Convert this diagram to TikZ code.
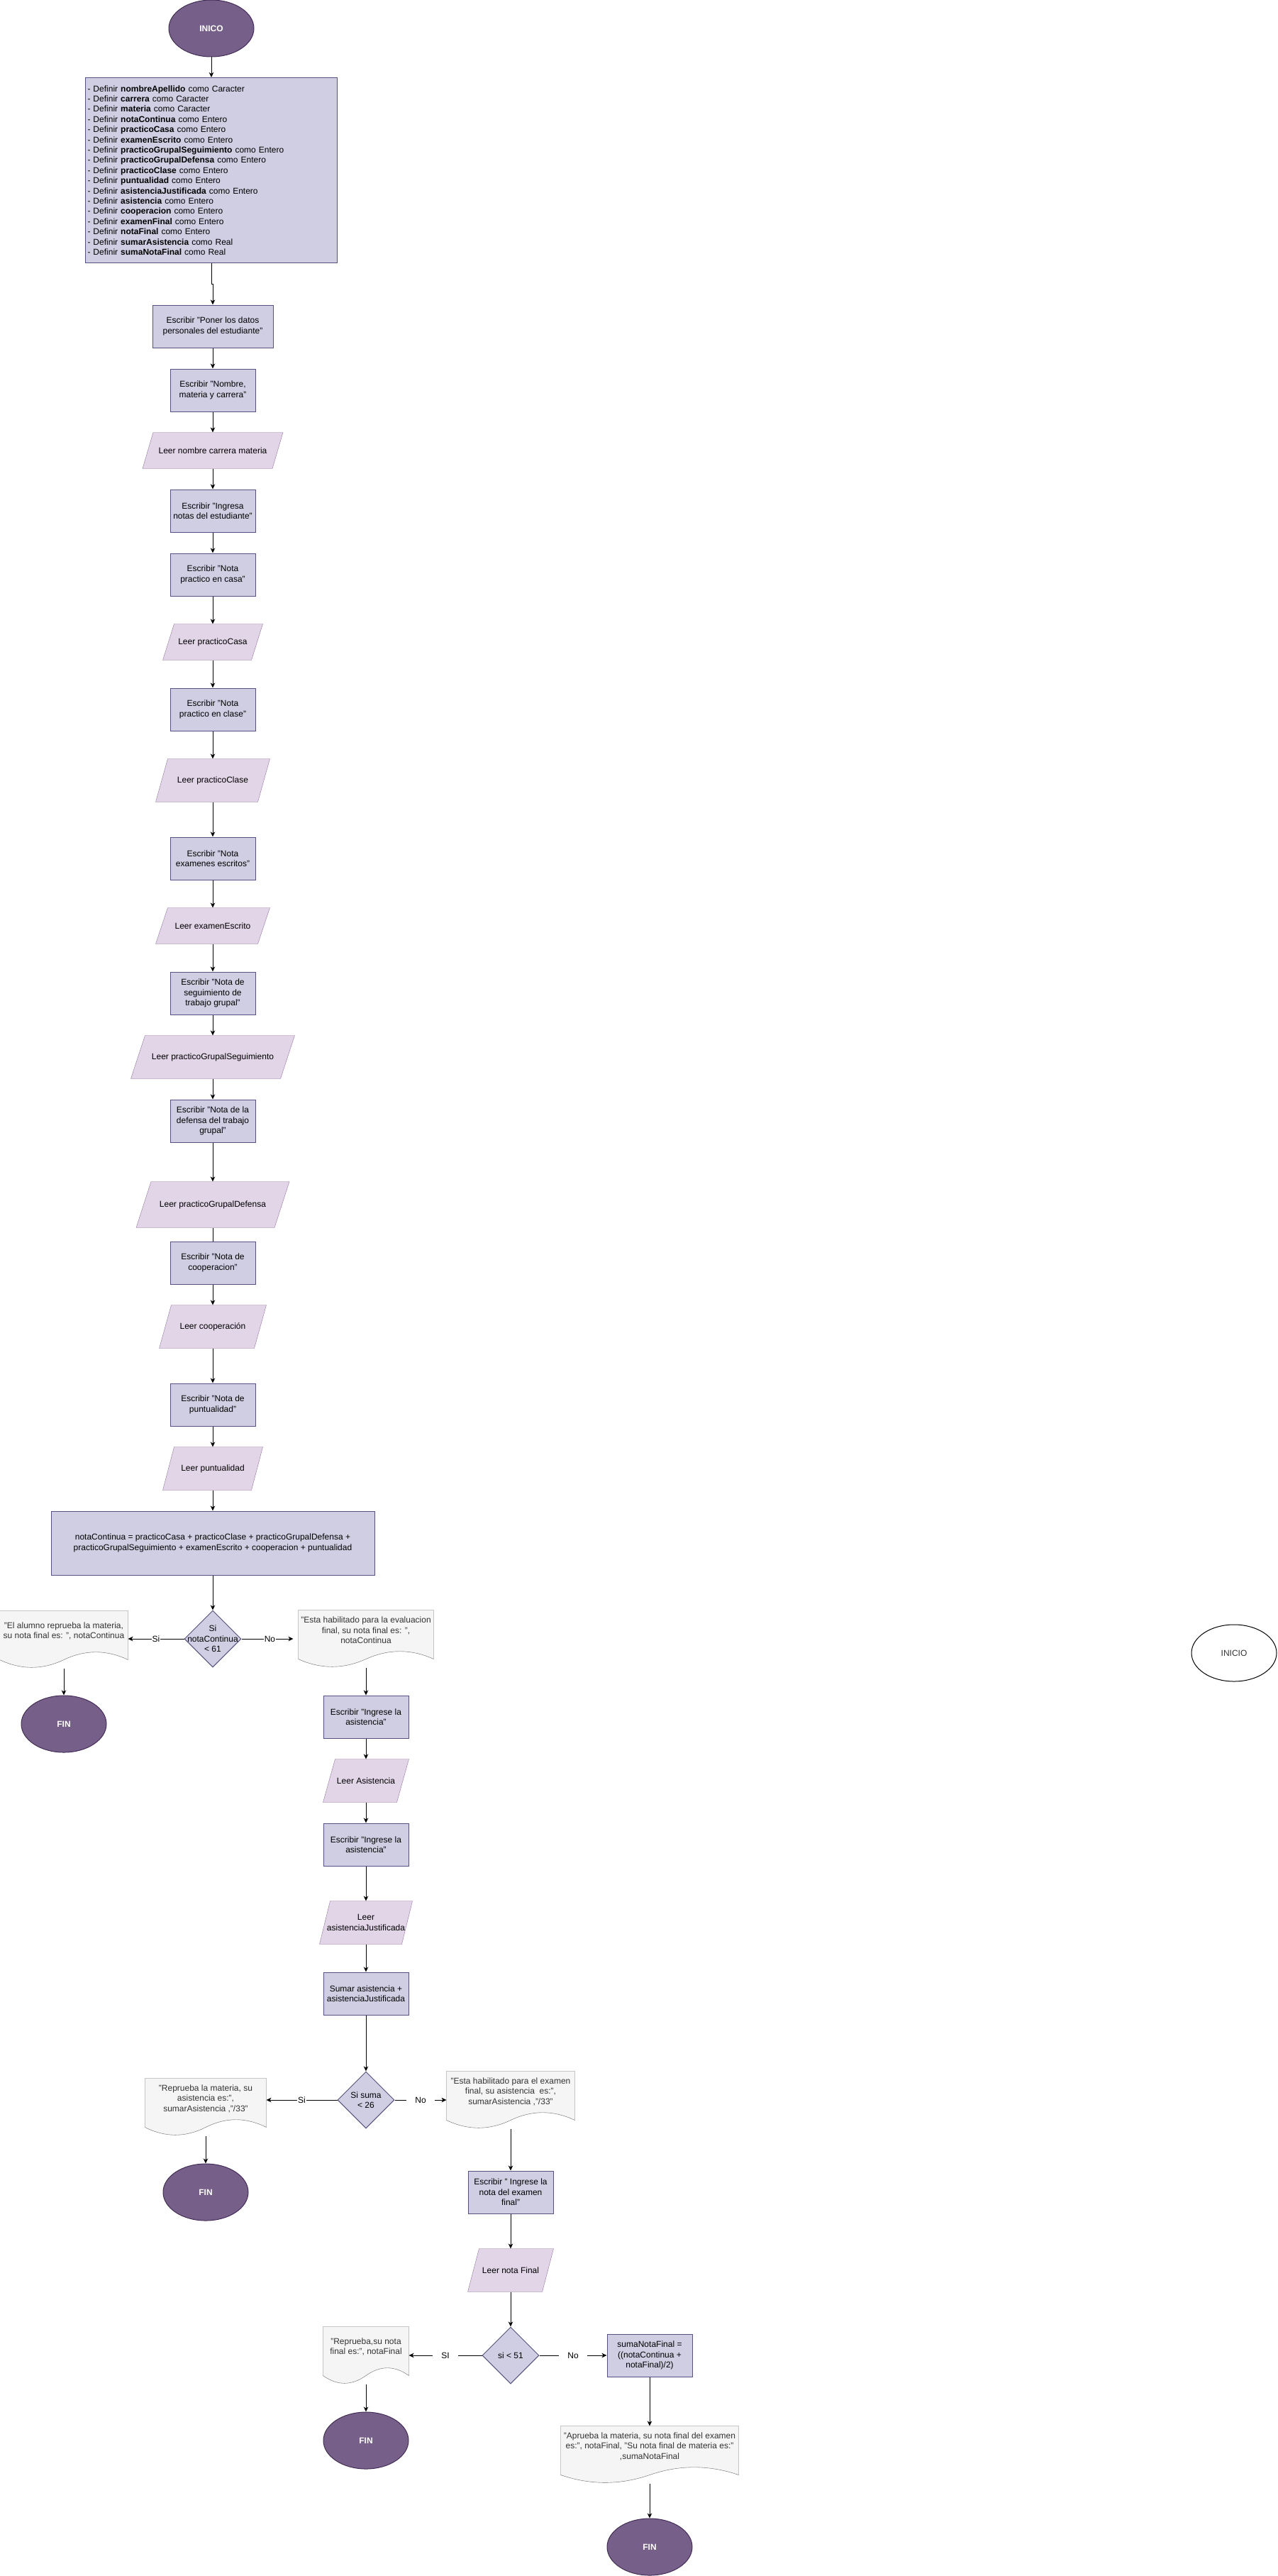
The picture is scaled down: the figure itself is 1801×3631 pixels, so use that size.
\documentclass[tikz,border=0pt]{standalone}
\usepackage{fontspec}
\setmainfont{Liberation Sans}
\usepackage{tikz}
\usetikzlibrary{shapes.geometric,arrows.meta,backgrounds,calc}

\definecolor{termfill}{HTML}{76608A}
\definecolor{termline}{HTML}{432D57}
\definecolor{procfill}{HTML}{D0CEE2}
\definecolor{procline}{HTML}{56517E}
\definecolor{readfill}{HTML}{E1D5E7}
\definecolor{readline}{HTML}{9673A6}
\definecolor{docfill}{HTML}{F5F5F5}
\definecolor{docline}{HTML}{666666}
\definecolor{doctextc}{HTML}{333333}

% parallelogram behind a read node
\newcommand{\readshape}[2]{%
  \filldraw[draw=readline, fill=readfill]
    ([xshift=#2pt]#1.north west) -- (#1.north east)
    -- ([xshift=-#2pt]#1.south east) -- (#1.south west) -- cycle;}
% document shape with wavy bottom
\newcommand{\docshape}[1]{%
  \filldraw[draw=docline, fill=docfill]
    (#1.north west) -- (#1.north east) -- ([yshift=12pt]#1.south east)
    .. controls ($(#1.south west)!0.8333!(#1.south east)+(0pt,26.4pt)$) and ($(#1.south west)!0.6667!(#1.south east)+(0pt,26.4pt)$) .. ([yshift=12pt]#1.south)
    .. controls ($(#1.south west)!0.3333!(#1.south east)+(0pt,-2.4pt)$) and ($(#1.south west)!0.1667!(#1.south east)+(0pt,-2.4pt)$) .. ([yshift=12pt]#1.south west)
    -- cycle;}

\begin{document}
\begin{tikzpicture}[x=1pt, y=-1pt, line width=1pt,
  every node/.style={font=\fontsize{12}{14.4}\selectfont, inner sep=2pt},
  term/.style={ellipse, draw=termline, fill=termfill, text=white,
    font=\fontsize{12}{14.4}\selectfont\bfseries, minimum width=120, minimum height=80, inner sep=0pt},
  proc/.style={rectangle, draw=procline, fill=procfill, minimum width=120, minimum height=60, align=center},
  readbox/.style={rectangle, minimum width=120, minimum height=60, align=center},
  docbox/.style={rectangle, minimum height=80},
  doctext/.style={align=center, text=doctextc, yshift=12pt},
  decide/.style={diamond, draw=procline, fill=procfill, minimum width=80, minimum height=80, inner sep=0pt},
  arr/.style={-{Stealth[length=7pt,width=6.5pt,inset=2pt]}},
  lbl/.style={fill=white, inner sep=1pt},
  lblwide/.style={lbl, inner xsep=12pt}]
\useasboundingbox (0,0) rectangle (1801,3631);

% start and definitions
\node[term] (ini) at (298,40) {INICO};
\node[proc, align=left, text width=349, minimum height=261, inner xsep=3pt] (defs) at (298,240) {%
- Definir \textbf{nombreApellido} como Caracter\\
- Definir \textbf{carrera} como Caracter\\
- Definir \textbf{materia} como Caracter\\
- Definir \textbf{notaContinua} como Entero\\
- Definir \textbf{practicoCasa} como Entero\\
- Definir \textbf{examenEscrito} como Entero\\
- Definir \textbf{practicoGrupalSeguimiento} como Entero\\
- Definir \textbf{practicoGrupalDefensa} como Entero\\
- Definir \textbf{practicoClase} como Entero\\
- Definir \textbf{puntualidad} como Entero\\
- Definir \textbf{asistenciaJustificada} como Entero\\
- Definir \textbf{asistencia} como Entero\\
- Definir \textbf{cooperacion} como Entero\\
- Definir \textbf{examenFinal} como Entero\\
- Definir \textbf{notaFinal} como Entero\\
- Definir \textbf{sumarAsistencia} como Real\\
- Definir \textbf{sumaNotaFinal} como Real};

% input column
\node[proc, minimum width=170] (b1) at (300,460) {Escribir "Poner los datos\\personales del estudiante"};
\node[proc] (b2) at (300,550) {Escribir "Nombre,\\materia y carrera"};
\node[readbox, minimum width=197, minimum height=50] (r1) at (300,635) {Leer nombre carrera materia};
\node[proc] (b3) at (300,720) {Escribir "Ingresa\\notas del estudiante"};
\node[proc] (b4) at (300,810) {Escribir "Nota\\practico en casa"};
\node[readbox, minimum width=140, minimum height=50] (r2) at (300,905) {Leer practicoCasa};
\node[proc] (b5) at (300,1000) {Escribir "Nota\\practico en clase"};
\node[readbox, minimum width=160] (r3) at (300,1100) {Leer practicoClase};
\node[proc] (b6) at (300,1210) {Escribir "Nota\\examenes escritos"};
\node[readbox, minimum width=160, minimum height=50] (r4) at (300,1305) {Leer examenEscrito};
\node[proc] (b7) at (300,1400) {Escribir "Nota de\\seguimiento de\\trabajo grupal"};
\node[readbox, minimum width=230] (r5) at (300,1490) {Leer practicoGrupalSeguimiento};
\node[proc] (b8) at (300,1580) {Escribir "Nota de la\\defensa del trabajo\\grupal"};
\node[readbox, minimum width=215, minimum height=64] (r6) at (300,1698) {Leer practicoGrupalDefensa};
\node[proc] (b9) at (300,1780) {Escribir "Nota de\\cooperacion"};
\node[readbox, minimum width=150] (r7) at (300,1870) {Leer cooperación};
\node[proc] (b10) at (300,1980) {Escribir "Nota de\\puntualidad"};
\node[readbox, minimum width=140] (r8) at (300,2070) {Leer puntualidad};
\node[proc, minimum width=456, minimum height=90] (calc) at (300,2175) {notaContinua = practicoCasa + practicoClase + practicoGrupalDefensa +\\practicoGrupalSeguimiento + examenEscrito + cooperacion + puntualidad};

% first decision
\node[decide, label={[align=center]center:{Si\\notaContinua\\< 61}}] (d1) at (300,2310) {};
\node[docbox, minimum width=180, label={[doctext]center:{"El alumno reprueba la materia,\\su nota final es: ", notaContinua}}] (o1) at (90,2311) {};
\node[term] (f1) at (90,2430) {FIN};
\node[docbox, minimum width=190, label={[doctext]center:{"Esta habilitado para la evaluacion\\final, su nota final es: ",\\notaContinua}}] (o2) at (516,2310) {};
\node[proc] (b11) at (516,2420) {Escribir "Ingrese la\\asistencia"};
\node[readbox] (r9) at (516,2510) {Leer Asistencia};
\node[proc] (b12) at (516,2600) {Escribir "Ingrese la\\asistencia"};
\node[readbox, minimum width=130] (r10) at (516,2710) {Leer\\asistenciaJustificada};
\node[proc] (b13) at (516,2810) {Sumar asistencia +\\asistenciaJustificada};

% second decision
\node[decide, label={[align=center]center:{Si suma\\< 26}}] (d2) at (516,2960) {};
\node[docbox, minimum width=170, label={[doctext]center:{"Reprueba la materia, su\\asistencia es:",\\sumarAsistencia ,"/33"}}] (o3) at (290,2970) {};
\node[term] (f2) at (290,3090) {FIN};
\node[docbox, minimum width=180, label={[doctext]center:{"Esta habilitado para el examen\\final, su asistencia \ es:",\\sumarAsistencia ,"/33"}}] (o4) at (720,2960) {};
\node[proc] (b14) at (720,3090) {Escribir " Ingrese la\\nota del examen\\final"};
\node[readbox] (r11) at (720,3200) {Leer nota Final};

% third decision
\node[decide, label={[align=center]center:{si < 51}}] (d3) at (720,3320) {};
\node[docbox, minimum width=120, label={[doctext]center:{"Reprueba,su nota\\final es:", notaFinal}}] (o5) at (516,3320) {};
\node[term] (f3) at (516,3440) {FIN};
\node[proc] (b15) at (916,3320) {sumaNotaFinal =\\((notaContinua +\\notaFinal)/2)};
\node[docbox, minimum width=250, label={[doctext]center:{"Aprueba la materia, su nota final del examen\\es:", notaFinal, "Su nota final de materia es:"\\,sumaNotaFinal}}] (o6) at (916,3460) {};
\node[term] (f4) at (916,3590) {FIN};

% loose start node
\node[ellipse, draw, minimum width=120, minimum height=80, text=doctextc] (ini2) at (1740,2330) {INICIO};

% shapes behind the read and output nodes
\begin{scope}[on background layer]
  \fill[white] (0,0) rectangle (1801,3631);
  \foreach \n/\s in {r1/15,r2/16,r3/17,r4/17,r5/20,r6/21,r7/17,r8/16,r9/17,r10/15,r11/16}
    {\readshape{\n}{\s}}
  \foreach \n in {o1,o2,o3,o4,o5,o6}
    {\docshape{\n}}
\end{scope}

% edges
\draw[arr] (ini) -- (defs);
\draw[arr] (defs.south) -- ++(0,29) -| (b1.north);
\foreach \a/\b in {b1/b2,b2/r1,r1/b3,b3/b4,b4/r2,r2/b5,b5/r3,r3/b6,b6/r4,r4/b7,b7/r5,r5/b8,b8/r6,
  b9/r7,r7/b10,b10/r8,r8/calc,calc/d1,b11/r9,r9/b12,b12/r10,r10/b13,b13/d2,b14/r11,r11/d3,b15/o6}
  \draw[arr] (\a) -- (\b);
\draw (r6) -- (b9);
\draw[arr] (d1.west) -- node[lbl] {Si} (d1.west -| o1.east);
\draw[arr, shorten >=7pt] (d1.east) -- node[lbl] {No} (d1.east -| o2.west);
\draw[arr] (o1.south) -- (f1.north);
\draw[arr] (o2.south) -- (b11.north);
\draw[arr] (d2.west) -- node[lbl] {Si} (d2.west -| o3.east);
\draw[arr] (d2.east) -- node[lblwide] {No} (d2.east -| o4.west);
\draw[arr] (o3.south) -- (f2.north);
\draw[arr] (o4.south) -- (b14.north);
\draw[arr] (d3.west) -- node[lblwide] {SI} (d3.west -| o5.east);
\draw[arr] (d3.east) -- node[lblwide] {No} (b15.west);
\draw[arr] (o5.south) -- (f3.north);
\draw[arr] (o6.south) -- (f4.north);
\end{tikzpicture}
\end{document}
